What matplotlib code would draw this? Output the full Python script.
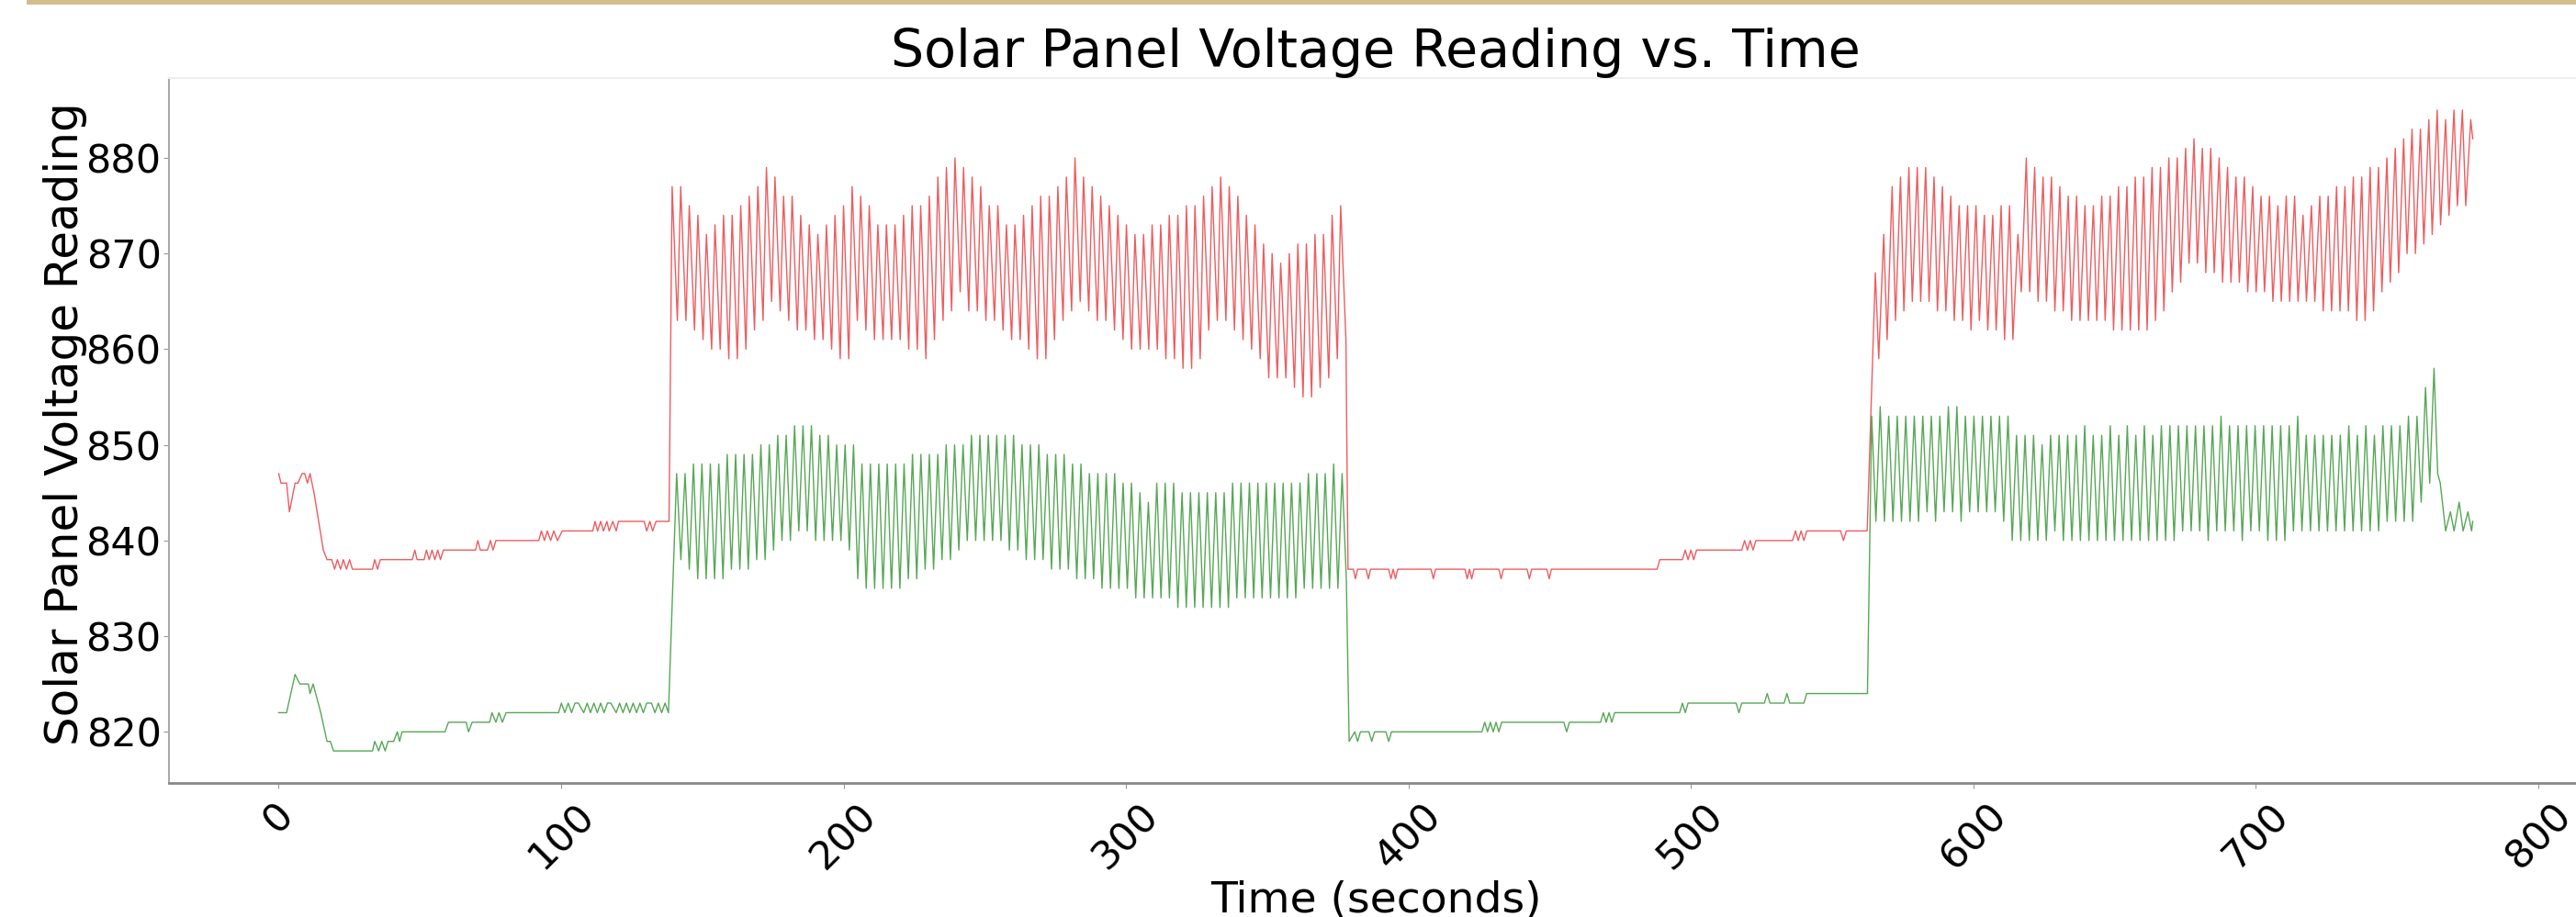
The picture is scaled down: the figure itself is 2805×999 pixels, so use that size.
import numpy as np
import matplotlib
matplotlib.use("Agg")
import matplotlib.pyplot as plt
from matplotlib.patches import Rectangle

# ---------------- data ----------------
# quiet sections: (time, value) vertices
red_pre_x = [0, 0.8, 2.8, 3.8, 5.8, 6.8, 8.3, 9.2, 10.2, 11.1, 12.5, 15.8, 17.1, 18.8, 19.8, 20.8, 21.9, 22.9,
             24.0, 25.1, 26.1, 33.2, 34.0, 35.0, 36.0, 47.3, 48.2, 49.0, 51.5, 52.3, 53.3, 54.3, 55.3, 56.3,
             57.3, 58.3, 60.6, 69.7, 70.5, 71.4, 73.9, 75.0, 75.9, 76.9, 92.1, 93.0, 94.1, 95.1, 96.3, 97.4,
             98.7, 100.4, 111.2, 112.0, 112.9, 114.0, 115.0, 116.2, 117.0, 118.3, 119.5, 120.3, 129.4, 130.3,
             131.4, 132.4, 133.6, 138.2]
red_pre_y = [847, 846, 846, 843, 846, 846, 847, 847, 846, 847, 845, 839, 838, 838, 837, 838, 837, 838,
             837, 838, 837, 837, 838, 837, 838, 838, 839, 838, 838, 839, 838, 839, 838, 839,
             838, 839, 839, 839, 840, 839, 839, 840, 839, 840, 840, 841, 840, 841, 840, 841,
             840, 841, 841, 842, 841, 842, 841, 842, 841, 842, 841, 842, 842, 841,
             842, 841, 842, 842]

green_pre_x = [0, 2.8, 5.8, 7.5, 10.5, 11.1, 12.2, 14.9, 17.1, 18.3, 19.4, 33.2, 34.0, 35.4, 36.5, 37.7,
               38.7, 40.7, 42.0, 42.8, 43.7, 44.8, 46.0, 58.9, 60.1, 66.4, 67.2, 68.5, 74.7, 75.5, 76.9,
               78.0, 79.2, 80.5, 99.1, 100.1, 101.3, 102.5, 103.7, 104.9, 106.1, 108.0, 109.2, 110.4,
               111.6, 112.8, 114.0, 115.2, 116.4, 117.6, 119.5, 120.7, 121.9, 123.1, 124.3, 125.5,
               126.7, 127.9, 129.1, 130.3, 132.0, 133.2, 134.4, 135.6, 136.8, 138.0]
green_pre_y = [822, 822, 826, 825, 825, 824, 825, 822, 819, 819, 818, 818, 819, 818, 819, 818,
               819, 819, 820, 819, 820, 820, 820, 820, 821, 821, 820, 821, 821, 822, 821,
               822, 821, 822, 822, 823, 822, 823, 822, 823, 823, 822, 823, 822,
               823, 822, 823, 822, 823, 823, 822, 823, 822, 823, 822, 823,
               822, 823, 822, 823, 823, 822, 823, 822, 823, 822]

red_mid_x = [378.6, 380.5, 381.2, 382.0, 385.0, 385.8, 386.6, 393.0, 393.8, 394.6, 395.4, 396.2, 408.0,
             408.8, 409.6, 420.0, 420.8, 421.6, 422.4, 423.2, 432.0, 432.8, 433.6, 442.0, 442.8, 443.6,
             449.0, 449.8, 450.6, 488.0, 489.0, 497.0, 498.0, 499.0, 500.0, 501.0, 502.0, 518.0, 519.0,
             520.0, 521.0, 522.0, 523.0, 536.0, 537.0, 538.0, 539.0, 540.0, 541.0, 553.0, 554.0, 555.0,
             562.4]
red_mid_y = [837, 837, 836, 837, 837, 836, 837, 837, 836, 837, 836, 837, 837,
             836, 837, 837, 836, 837, 836, 837, 837, 836, 837, 837, 836, 837,
             837, 836, 837, 837, 838, 838, 839, 838, 839, 838, 839, 839, 840,
             839, 840, 839, 840, 840, 841, 840, 841, 840, 841, 841, 840, 841,
             841]

green_mid_x = [379.0, 381.0, 382.0, 383.0, 386.0, 387.0, 388.0, 392.0, 393.0, 394.0, 426.0, 427.0, 428.0,
               429.0, 430.0, 431.0, 432.0, 433.0, 455.0, 456.0, 457.0, 468.0, 469.0, 470.0, 471.0, 472.0,
               473.0, 496.0, 497.0, 498.0, 499.0, 516.0, 517.0, 518.0, 526.0, 527.0, 528.0, 533.0, 534.0,
               535.0, 540.0, 541.0, 562.5]
green_mid_y = [819, 820, 819, 820, 820, 819, 820, 820, 819, 820, 820, 821, 820,
               821, 820, 821, 820, 821, 821, 820, 821, 821, 822, 821, 822, 821,
               822, 822, 823, 822, 823, 823, 822, 823, 823, 824, 823, 823, 824,
               823, 823, 824, 824]

# oscillating sections: successive crest and trough readings
red_osc1_peaks = [877, 877, 875, 874, 872, 873, 874, 874, 875, 876, 877, 879, 878, 876, 876, 874, 873, 872,
                  873, 874, 875, 877, 876, 875, 873, 873, 873, 874, 875, 875, 876, 878, 879, 880, 879, 878,
                  877, 875,
                  875, 873, 873, 874, 875, 876, 876, 877, 878, 880, 878, 877, 876, 875, 874, 873, 872, 872,
                  873, 873, 874, 874, 875, 875, 876, 877, 878, 877, 876, 874, 873, 871, 870, 869, 870, 871,
                  871, 872, 872, 874, 875]
red_osc1_troughs = [863, 863, 862, 861, 860, 860, 859, 859, 860, 862, 863, 865, 864, 863, 862, 862, 861, 861,
                    860, 859, 859, 863, 862, 861, 861, 861, 861, 860, 860, 859, 861, 863, 864, 866, 864, 864,
                    863, 863,
                    862, 861, 861, 860, 859, 859, 861, 863, 864, 865, 864, 863, 863, 862, 861, 860, 860, 860,
                    860, 859, 859, 858, 858, 859, 862, 863, 863, 862, 861, 860, 859, 857, 857, 857, 856, 855,
                    855, 856, 857, 859, 861]

green_osc1_peaks = [847, 847, 848, 848, 848, 848, 849, 849, 849, 849, 850, 850, 851, 851, 852, 852, 852, 851,
                    851, 850, 850, 850, 848, 848, 848, 848, 848, 848, 849, 849, 849, 849, 850, 850, 850, 851,
                    851, 851,
                    851, 851, 851, 850, 850, 850, 849, 849, 849, 848, 848, 847, 847, 847, 847, 846, 846, 845,
                    844, 846, 846, 846, 845, 845, 845, 845, 845, 845, 846, 846, 846, 846, 846, 846, 846, 846,
                    846, 847, 847, 847, 848, 847]
green_osc1_troughs = [838, 837, 836, 836, 836, 836, 837, 837, 837, 838, 838, 839, 840, 840, 841, 841, 840, 840,
                      840, 840, 839, 836, 835, 835, 835, 835, 835, 836, 836, 837, 837, 838, 838, 839, 840, 840,
                      840, 840,
                      840, 839, 839, 838, 838, 838, 837, 837, 837, 836, 836, 836, 835, 835, 835, 835, 834, 834,
                      834, 834, 834, 833, 833, 833, 833, 833, 833, 833, 834, 834, 834, 834, 834, 834, 834, 834,
                      835, 835, 835, 835, 835, 836]

red_osc2_peaks = [868, 872,
                  877, 878, 879, 879, 879, 878, 877, 876, 875, 875, 875, 874, 874, 875, 875, 872, 880, 879,
                  878, 878, 877, 876, 876, 875, 875, 876, 876, 877, 877, 878, 878, 879, 879, 880, 880,
                  881, 882, 881, 881, 880, 879, 878, 878, 877, 876, 876, 875, 876, 876, 874, 875, 876, 876,
                  877, 877, 878, 878, 879, 879, 880, 881, 882, 883, 883, 884, 885, 884, 885, 885, 884]
red_osc2_troughs = [859, 861,
                    863, 864, 865, 865, 865, 864, 864, 863, 863, 862, 863, 862, 862, 861, 861, 866, 866, 865,
                    865, 864, 864, 863, 863, 863, 863, 863, 862, 862, 862, 862, 862, 863, 864, 866, 867,
                    869, 869, 868, 868, 867, 867, 867, 866, 866, 866, 865, 865, 865, 865, 865, 865, 864, 864,
                    864, 864, 863, 863, 864, 866, 867, 868, 870, 870, 871, 872, 873, 874, 875, 875]
red_end_x = [776.8]
red_end_y = [882]

green_osc2_peaks = [853, 854, 853, 853, 853, 853, 853, 853, 853, 854, 854, 853, 853, 853, 853, 853, 853, 851,
                    851, 851, 850, 851, 851, 851, 851, 852, 851, 851, 852, 851, 852, 851, 852, 851, 852, 852,
                    852, 852, 852, 852, 852, 853, 852, 852, 852, 852, 852, 852, 852, 852, 853, 851, 851, 851,
                    851, 851, 852, 851, 852, 851, 852, 852, 852, 853, 853, 856, 858]
green_osc2_troughs = [842, 842, 842, 842, 842, 842, 843, 842, 843, 843, 842, 843, 843, 843, 843, 842, 840, 840,
                      840, 840, 840, 841, 840, 840, 840, 840, 840, 840, 840, 840, 840, 840, 840, 840, 840, 840,
                      841, 841, 841, 840, 841, 841, 841, 840, 841, 841, 840, 840, 840, 841, 841, 841, 841, 841,
                      841, 841, 841, 841, 841, 841, 842, 842, 842, 842, 844, 846]
green_end_x = [764.4, 765.3, 767.2, 768.9, 770.2, 772.0, 773.4, 775.1, 776.4, 776.8]
green_end_y = [847, 846, 841, 843, 841, 844, 841, 843, 841, 842]

# time spans of the oscillating sections (first crest, last crest)
red_osc1_span = (139.3, 376.0)
green_osc1_span = (140.9, 376.5)
red_osc2_span = (565.3, 776.1)
green_osc2_span = (564.0, 763.1)

title = "Solar Panel Voltage Reading vs. Time"
xlabel = "Time (seconds)"
ylabel = "Solar Panel Voltage Reading"
xticks = [0, 100, 200, 300, 400, 500, 600, 700, 800]


def oscillation(peaks, troughs, span, lag):
    px = np.linspace(span[0], span[1], len(peaks))
    xs, ys = [], []
    for i, p in enumerate(peaks):
        xs.append(px[i]); ys.append(p)
        if i < len(troughs):
            xs.append(px[i] + lag); ys.append(troughs[i])
    return xs, ys


rx1, ry1 = oscillation(red_osc1_peaks, red_osc1_troughs, red_osc1_span, 1.85)
rx2, ry2 = oscillation(red_osc2_peaks, red_osc2_troughs, red_osc2_span, 1.2)
gx1, gy1 = oscillation(green_osc1_peaks, green_osc1_troughs, green_osc1_span, 1.5)
gx2, gy2 = oscillation(green_osc2_peaks, green_osc2_troughs, green_osc2_span, 1.5)

red_x = red_pre_x + rx1 + red_mid_x + rx2 + red_end_x
red_y = red_pre_y + ry1 + red_mid_y + ry2 + red_end_y
green_x = green_pre_x + gx1 + green_mid_x + gx2 + green_end_x
green_y = green_pre_y + gy1 + green_mid_y + gy2 + green_end_y

# ---------------- figure ----------------
W, H = 2805, 999
fig = plt.figure(figsize=(W / 100, H / 100), dpi=100)
fig.patch.set_facecolor("white")

# golden band along the top edge
fig.patches.append(Rectangle((29 / W, 1 - 5 / H), 1 - 29 / W, 5 / H, transform=fig.transFigure,
                             facecolor="#d4bd8c", edgecolor="none"))

ax = fig.add_axes([184 / W, 146 / H, 2628 / W, 768 / H])
ax.plot(red_x, red_y, color="#e8262b", lw=1.0, alpha=0.75)
ax.plot(green_x, green_y, color="#1e8a1e", lw=1.0, alpha=0.75)
ax.margins(x=0.05, y=0.05)

ax.set_xticks(xticks)
ax.set_title(title, fontsize=41, pad=7)
ax.set_xlabel(xlabel, fontsize=34)
ax.set_ylabel(ylabel, fontsize=36)
ax.xaxis.set_label_coords(0.5, -0.137)
ax.yaxis.set_label_coords(-0.034, 0.51)
ax.tick_params(axis="x", labelsize=31, rotation=45, length=4, color="#999999", pad=6)
ax.tick_params(axis="y", labelsize=31, length=4, color="#999999", pad=2)
for lab in ax.get_xticklabels():
    lab.set_ha("center")

ax.spines["left"].set_color("#aaaaaa")
ax.spines["left"].set_linewidth(1.5)
ax.spines["bottom"].set_color("#888888")
ax.spines["bottom"].set_linewidth(2)
ax.spines["top"].set_color("#eeeeee")
ax.spines["top"].set_linewidth(1.5)
ax.spines["right"].set_visible(False)

fig.savefig("out.png", dpi=100)
